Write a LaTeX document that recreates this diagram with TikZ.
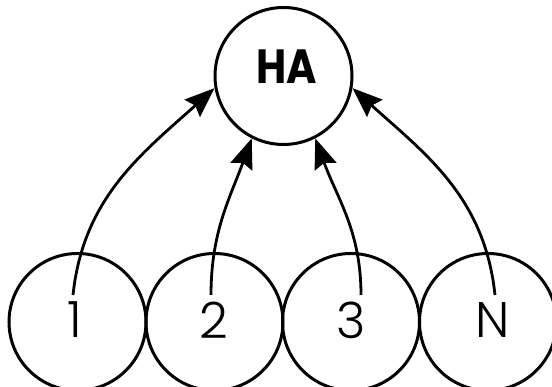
\documentclass[tikz,border=0pt]{standalone}
\usepackage{fontspec}
\setmainfont{Poppins}
\newfontfamily\lightfont{Poppins Light}
\usetikzlibrary{arrows.meta}
\begin{document}
\begin{tikzpicture}[x=1pt,y=1pt,
  member/.style={circle,draw,line width=3pt,minimum size=137pt,inner sep=0pt},
  digit/.style={inner sep=0pt,font=\lightfont\fontsize{50}{50}\selectfont},
  title/.style={inner sep=0pt,font=\fontsize{48}{48}\selectfont\bfseries},
  link/.style={line width=2.8pt,-{Stealth[length=30pt,width=23pt,inset=4pt]}}]
\useasboundingbox (0,0) rectangle (552,387);
% aggregating node
\node[member] (ha) at (283.5,311) {};
\node[title] (hal) at (287,320) {\scalebox{0.86}[1]{HA}};
% member nodes
\node[member] (m1) at (77.5,65) {};
\node[member] (m2) at (214.5,65) {};
\node[member] (m3) at (351,65) {};
\node[member] (mn) at (488,65) {};
\node[digit] (l1) at (75,67) {1};
\node[digit] (l2) at (214,67) {2};
\node[digit] (l3) at (351,67) {3};
\node[digit] (ln) at (493,67) {N};
% arrow start points inside the members
\coordinate (s1) at (73,92);
\coordinate (s2) at (211,92);
\coordinate (s3) at (361,92);
\coordinate (sn) at (495,92);
\draw[link] (s1) to[out=84,in=222] (ha.190);
\draw[link] (s2) to[out=90,in=250] (ha.243);
\draw[link] (s3) to[out=90,in=290] (ha.297);
\draw[link] (sn) to[out=96,in=318] (ha.350);
\end{tikzpicture}
\end{document}
